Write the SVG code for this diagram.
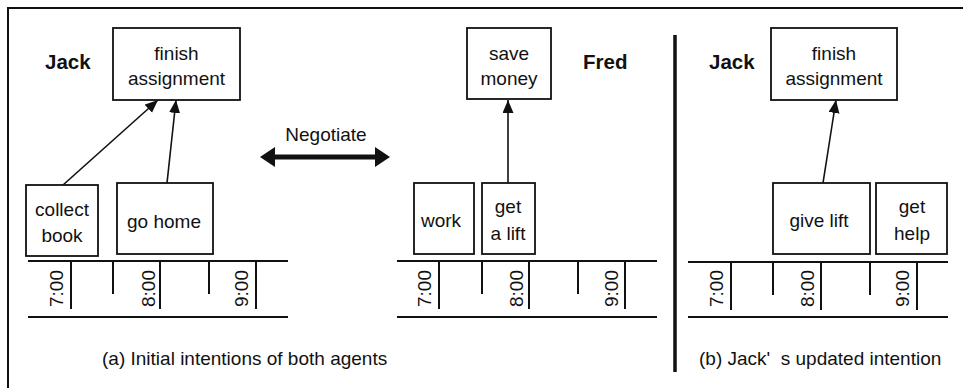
<svg xmlns="http://www.w3.org/2000/svg" width="963" height="388" viewBox="0 0 963 388">
<defs>
<style>
text{font-family:"Liberation Sans",Arial,sans-serif;font-size:19px;fill:#111}
.b{font-weight:bold;font-size:20.5px}
.m{text-anchor:middle}
.pre{white-space:pre}
.box{fill:#fff;stroke:#111;stroke-width:1.8}
.ln{stroke:#111;stroke-width:2;fill:none}
.ar{stroke:#111;stroke-width:1.6;fill:none;marker-end:url(#ah)}
</style>
<marker id="ah" markerUnits="userSpaceOnUse" markerWidth="14" markerHeight="12" refX="13" refY="5.5" orient="auto">
<path d="M0,0 L13,5.5 L0,11 z" fill="#111"/>
</marker>
</defs>
<rect width="963" height="388" fill="#fff"/>
<g id="frame">
<path d="M8,388 V8 H963" class="ln" stroke-width="1.6"/>
<line x1="675" y1="35" x2="675" y2="372" stroke="#111" stroke-width="3.5"/>
</g>
<g id="connectors">
<line x1="63" y1="185" x2="158" y2="100" class="ar"/>
<line x1="167" y1="183" x2="176" y2="100" class="ar"/>
<line x1="508" y1="183" x2="508" y2="100" class="ar"/>
<line x1="823" y1="183" x2="836" y2="100" class="ar"/>
<g id="negotiate">
<line x1="272" y1="157" x2="378" y2="157" stroke="#111" stroke-width="5"/>
<path d="M260,157 L275,147 L275,167 z" fill="#111"/>
<path d="M390,157 L375,147 L375,167 z" fill="#111"/>
<text x="326" y="141" class="m">Negotiate</text>
</g>
</g>
<g id="jack-a">
<text x="45" y="69" class="b">Jack</text>
<g id="finish-a"><rect x="113" y="28" width="127" height="72" class="box"/><text x="176.5" y="60" class="m">finish</text><text x="176.5" y="85" class="m">assignment</text></g>
<g id="collect-book"><rect x="26" y="185" width="72" height="71" class="box"/><text x="62" y="216" class="m">collect</text><text x="62" y="242" class="m">book</text></g>
<g id="go-home"><rect x="117" y="183" width="96" height="71" class="box"/><text x="164" y="228" class="m">go home</text></g>
<g id="timeline-a">
<line x1="28" y1="261" x2="288" y2="261" class="ln"/>
<line x1="28" y1="317" x2="288" y2="317" class="ln"/>
<path d="M71,261V309 M113,261V294 M160,261V309 M209,261V294 M256,261V309" class="ln"/>
<text transform="translate(63,288.5) rotate(-90)" class="m">7:00</text>
<text transform="translate(155,288.5) rotate(-90)" class="m">8:00</text>
<text transform="translate(248,288.5) rotate(-90)" class="m">9:00</text>
</g>
<text x="102" y="365">(a) Initial intentions of both agents</text>
</g>
<g id="fred">
<text x="583" y="69" class="b">Fred</text>
<g id="save-money"><rect x="467" y="28" width="84" height="71" class="box"/><text x="509" y="60" class="m">save</text><text x="509" y="85" class="m">money</text></g>
<g id="work"><rect x="414" y="183" width="60" height="71" class="box"/><text x="441" y="227" class="m">work</text></g>
<g id="get-a-lift"><rect x="482" y="183" width="53" height="71" class="box"/><text x="508" y="213" class="m">get</text><text x="508" y="240" class="m">a lift</text></g>
<g id="timeline-fred">
<line x1="397" y1="261" x2="657" y2="261" class="ln"/>
<line x1="397" y1="317" x2="657" y2="317" class="ln"/>
<path d="M439,261V309 M482,261V294 M529,261V309 M578,261V294 M625,261V309" class="ln"/>
<text transform="translate(431,288.5) rotate(-90)" class="m">7:00</text>
<text transform="translate(523,288.5) rotate(-90)" class="m">8:00</text>
<text transform="translate(618,288.5) rotate(-90)" class="m">9:00</text>
</g>
</g>
<g id="jack-b">
<text x="709" y="69" class="b">Jack</text>
<g id="finish-b"><rect x="771" y="28" width="126" height="72" class="box"/><text x="834" y="60" class="m">finish</text><text x="834" y="85" class="m">assignment</text></g>
<g id="give-lift"><rect x="773" y="183" width="97" height="71" class="box"/><text x="819" y="227" class="m">give lift</text></g>
<g id="get-help"><rect x="876" y="183" width="71" height="71" class="box"/><text x="912" y="213" class="m">get</text><text x="912" y="240" class="m">help</text></g>
<g id="timeline-b">
<line x1="688" y1="262" x2="948" y2="262" class="ln"/>
<line x1="688" y1="317" x2="948" y2="317" class="ln"/>
<path d="M731,262V310 M773,262V295 M821,262V310 M870,262V295 M917,262V310" class="ln"/>
<text transform="translate(723,288.5) rotate(-90)" class="m">7:00</text>
<text transform="translate(814,288.5) rotate(-90)" class="m">8:00</text>
<text transform="translate(909,288.5) rotate(-90)" class="m">9:00</text>
</g>
<text x="699" y="365" class="pre">(b) Jack'  s updated intention</text>
</g>
</svg>
